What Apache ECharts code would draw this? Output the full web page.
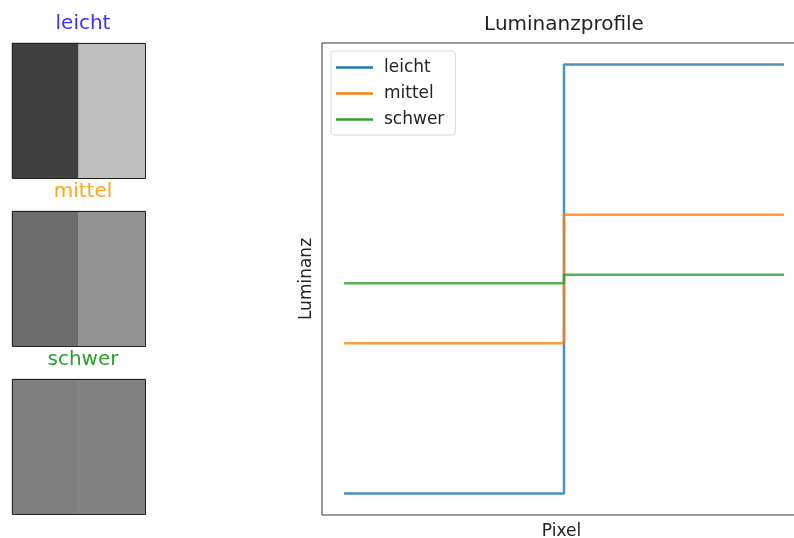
<!DOCTYPE html>
<html><head><meta charset="utf-8">
<script src="https://cdn.jsdelivr.net/npm/echarts@6/dist/echarts.min.js"></script>
<style>html,body{margin:0;padding:0;background:#fff}#c{width:794px;height:538px}</style>
</head><body><div id="c"></div>
<script>
// Data
const names = ['leicht', 'mittel', 'schwer'];
const leftLum = [0.25, 0.425, 0.495];   // luminance left half
const rightLum = [0.75, 0.575, 0.505];  // luminance right half
const pixelBreaks = [0, 49.5, 99];      // start, edge, end pixel
const titleColors = ['#3333ff', '#ffa61a', '#2ca02c'];
const lineColors = ['#1f77b4', '#ff7f0e', '#2ca02c'];

const FONT = 'DejaVu Sans';
const chart = echarts.init(document.getElementById('c'));

const panelTops = [43, 211, 379];
const grids = [], xAxes = [], yAxes = [], series = [], titles = [], graphics = [];

function gray(v) { const g = Math.round(v * 255); return 'rgb(' + g + ',' + g + ',' + g + ')'; }

names.forEach((n, i) => {
  grids.push({ left: 12, top: panelTops[i], width: 133, height: 135, show: false, outerBoundsMode: 'none', containLabel: false });
  xAxes.push({ type: 'category', gridIndex: i, data: ['L', 'R'], show: false });
  yAxes.push({ type: 'category', gridIndex: i, data: ['row'], show: false });
  series.push({
    type: 'heatmap', xAxisIndex: i, yAxisIndex: i, silent: true,
    data: [
      { value: [0, 0, leftLum[i]], itemStyle: { color: gray(leftLum[i]) } },
      { value: [1, 0, rightLum[i]], itemStyle: { color: gray(rightLum[i]) } }
    ]
  });
  graphics.push({
    type: 'rect', z: 100, silent: true,
    shape: { x: 12.5, y: panelTops[i] + 0.5, width: 133, height: 135 },
    style: { fill: null, stroke: '#222', lineWidth: 1 }
  });
  titles.push({
    text: n, left: 78, top: panelTops[i] - 34, textAlign: 'center',
    textStyle: { fontFamily: FONT, fontSize: 20, fontWeight: 'normal', color: titleColors[i] }
  });
});

// main chart (right spine falls outside the canvas, as in the reference)
const mi = names.length;
grids.push({ left: 322, top: 43, width: 484, height: 472, show: true, borderColor: '#333', borderWidth: 1, backgroundColor: 'transparent', outerBoundsMode: 'none', containLabel: false });
xAxes.push({
  type: 'value', gridIndex: mi, min: -4.95, max: 103.95,
  name: 'Pixel', nameLocation: 'middle', nameGap: 8,
  nameTextStyle: { fontFamily: FONT, fontSize: 17, color: '#222', verticalAlign: 'top', padding: [0, 5, 0, 0] },
  axisLine: { show: false }, axisTick: { show: false }, axisLabel: { show: false }, splitLine: { show: false }
});
yAxes.push({
  type: 'value', gridIndex: mi, min: 0.225, max: 0.775,
  name: 'Luminanz', nameLocation: 'middle', nameGap: 7,
  nameTextStyle: { fontFamily: FONT, fontSize: 17, color: '#222' },
  axisLine: { show: false }, axisTick: { show: false }, axisLabel: { show: false }, splitLine: { show: false }
});
names.forEach((n, i) => {
  series.push({
    name: n, type: 'line', xAxisIndex: mi, yAxisIndex: mi, step: 'end',
    showSymbol: false, symbol: 'none', silent: true,
    color: lineColors[i],
    lineStyle: { width: 2.5, opacity: 0.8, color: lineColors[i] },
    data: [[pixelBreaks[0], leftLum[i]], [pixelBreaks[1], rightLum[i]], [pixelBreaks[2], rightLum[i]]]
  });
});
titles.push({
  text: 'Luminanzprofile', left: 559, top: 10, textAlign: 'center',
  textStyle: { fontFamily: FONT, fontSize: 20, fontWeight: 'normal', color: '#222' }
});

chart.setOption({
  animation: false,
  backgroundColor: '#fff',
  title: titles,
  grid: grids,
  xAxis: xAxes,
  yAxis: yAxes,
  series: series,
  graphic: graphics,
  legend: {
    data: names, orient: 'vertical', left: 331, top: 51,
    icon: 'rect', itemWidth: 37, itemHeight: 2.5, itemGap: 9,
    padding: [8, 11, 7, 5],
    borderColor: '#d8d8d8', borderWidth: 1, borderRadius: 3,
    textStyle: { fontFamily: FONT, fontSize: 17, color: '#222', padding: [0, 0, 0, 6] }
  }
});
</script></body></html>
